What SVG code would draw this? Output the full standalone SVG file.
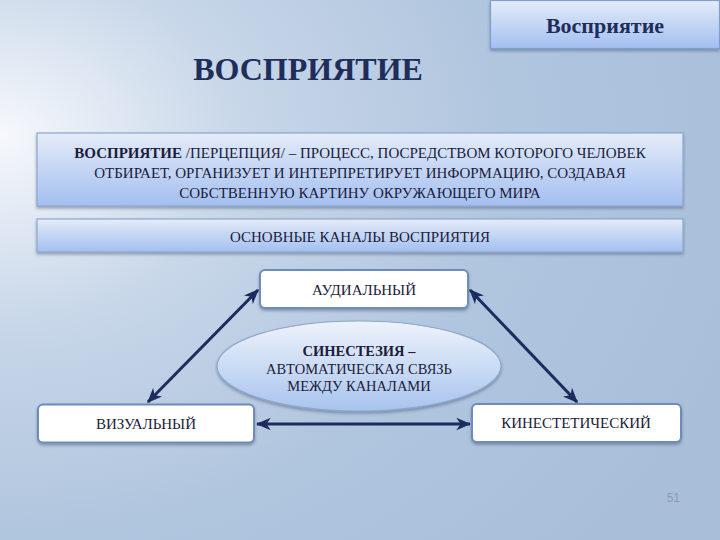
<svg xmlns="http://www.w3.org/2000/svg" width="720" height="540" viewBox="0 0 720 540">
<defs>
<radialGradient id="bg" cx="0" cy="0.3" r="1.1" fx="0" fy="0.25">
<stop offset="0" stop-color="#f6f8fc"/>
<stop offset="0.3" stop-color="#c8d7e9"/>
<stop offset="0.65" stop-color="#b0c5de"/>
<stop offset="1" stop-color="#a9bfd9"/>
</radialGradient>
<linearGradient id="band" x1="0" y1="0" x2="0" y2="1">
<stop offset="0" stop-color="#e4ecf9"/>
<stop offset="1" stop-color="#a3bff0"/>
</linearGradient>
<linearGradient id="ell" x1="0" y1="0" x2="0" y2="1">
<stop offset="0" stop-color="#eef3fb"/>
<stop offset="1" stop-color="#a8c4ee"/>
</linearGradient>
<filter id="sh" x="-5%" y="-20%" width="110%" height="150%">
<feDropShadow dx="0" dy="2" stdDeviation="1.5" flood-color="#3a4a66" flood-opacity="0.45"/>
</filter>
<marker id="ah" viewBox="0 0 12 10" refX="11" refY="5" markerWidth="5" markerHeight="5" orient="auto-start-reverse" markerUnits="strokeWidth">
<path d="M0,0 L12,5 L0,10 L3.5,5 Z" fill="#1c2c5e"/>
</marker>
</defs>
<style>
.band{fill:url(#band);stroke:#8ea7cd;stroke-width:1.2;filter:url(#sh)}
.node{fill:#ffffff;stroke:#6d8cbb;stroke-width:2;filter:url(#sh)}
.t{font-family:'Liberation Serif','DejaVu Serif',serif;fill:#1c1c3a;text-anchor:middle}
.con{stroke:#1c2c5e;stroke-width:3;fill:none;marker-start:url(#ah);marker-end:url(#ah)}
</style>
<rect x="0" y="0" width="720" height="540" fill="url(#bg)"/>

<g id="header">
<rect x="490.5" y="0.5" width="229" height="48" fill="url(#band)" stroke="#7f9fcf" stroke-width="1.2" filter="url(#sh)"/>
<text class="t" x="605" y="33" font-family="Liberation Serif, serif" font-size="22" font-weight="bold" style="fill:#1f2d5a">Восприятие</text>
</g>

<g id="title">
<text class="t" x="308" y="80" font-family="Liberation Serif, serif" font-size="32" font-weight="bold" style="fill:#1f2d5a">ВОСПРИЯТИЕ</text>
</g>

<g id="definition">
<rect class="band" x="37" y="133" width="646" height="73"/>
<text class="t" x="360" y="157.5" font-size="15"><tspan font-weight="bold">ВОСПРИЯТИЕ</tspan> /ПЕРЦЕПЦИЯ/  – ПРОЦЕСС, ПОСРЕДСТВОМ КОТОРОГО ЧЕЛОВЕК</text>
<text class="t" x="360" y="177.5" font-size="15">ОТБИРАЕТ, ОРГАНИЗУЕТ И ИНТЕРПРЕТИРУЕТ ИНФОРМАЦИЮ, СОЗДАВАЯ</text>
<text class="t" x="360" y="197.5" font-size="15">СОБСТВЕННУЮ КАРТИНУ ОКРУЖАЮЩЕГО МИРА</text>
</g>

<g id="channels">
<rect class="band" x="37" y="219" width="646" height="33"/>
<text class="t" x="360" y="242" font-size="15">ОСНОВНЫЕ КАНАЛЫ ВОСПРИЯТИЯ</text>
</g>

<g id="connectors">
<line class="con" x1="148" y1="402" x2="258" y2="290"/>
<line class="con" x1="470" y1="290" x2="577" y2="402"/>
<line class="con" x1="257" y1="424" x2="470" y2="424"/>
</g>

<g id="synesthesia">
<ellipse cx="359" cy="366" rx="142" ry="45" fill="url(#ell)" stroke="#8ea7cd" stroke-width="1.2" filter="url(#sh)"/>
<text class="t" x="359" y="356" font-size="14.5" font-weight="bold">СИНЕСТЕЗИЯ –</text>
<text class="t" x="359" y="374" font-size="14.5">АВТОМАТИЧЕСКАЯ СВЯЗЬ</text>
<text class="t" x="359" y="391" font-size="14.5">МЕЖДУ КАНАЛАМИ</text>
</g>

<g id="audial">
<rect class="node" x="260" y="270" width="208" height="38" rx="5"/>
<text class="t" x="364" y="295" font-size="15">АУДИАЛЬНЫЙ</text>
</g>

<g id="visual">
<rect class="node" x="38" y="404.5" width="216" height="38" rx="5"/>
<text class="t" x="146" y="429" font-size="15">ВИЗУАЛЬНЫЙ</text>
</g>

<g id="kinesthetic">
<rect class="node" x="472" y="404" width="209" height="38" rx="5"/>
<text class="t" x="576" y="428" font-size="15">КИНЕСТЕТИЧЕСКИЙ</text>
</g>

<g id="pagenum">
<text x="680" y="502" font-family="'Liberation Sans','DejaVu Sans',sans-serif" font-size="12" fill="#8b9bb3" text-anchor="end">51</text>
</g>
</svg>
